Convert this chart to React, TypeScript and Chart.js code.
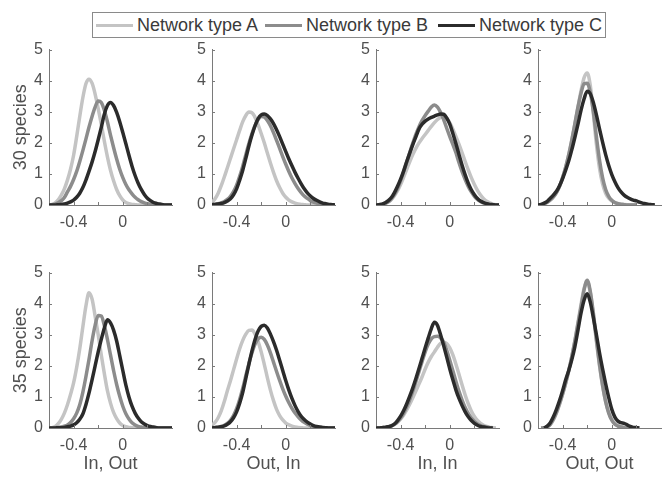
import React, { useEffect, useRef } from 'react';
import { Chart, registerables } from 'chart.js';

Chart.register(...registerables);

// ---------- data ----------
const XS = [
  -0.6, -0.575, -0.55, -0.525, -0.5, -0.475, -0.45, -0.425, -0.4, -0.375,
  -0.35, -0.325, -0.3, -0.275, -0.25, -0.225, -0.2, -0.175, -0.15, -0.125,
  -0.1, -0.075, -0.05, -0.025, 0, 0.025, 0.05, 0.075, 0.1, 0.125,
  0.15, 0.175, 0.2, 0.225, 0.25, 0.275, 0.3, 0.325, 0.35, 0.375, 0.4,
];

const SERIES_NAMES = ['Network type A', 'Network type B', 'Network type C'];
const ROW_LABELS = ['30 species', '35 species'];
const COL_LABELS = ['In, Out', 'Out, In', 'In, In', 'Out, Out'];
const Y_TICKS = [0, 1, 2, 3, 4, 5];
const X_TICKS = [-0.4, -0.2, 0, 0.2];
const X_TICK_LABELS = ['-0.4', '', '0', ''];

// 30 species
const S30_IN_OUT_A = [0, 0.02, 0.07, 0.17, 0.32, 0.52, 0.8, 1.15, 1.6, 2.2, 2.85, 3.45, 3.9, 4.05, 3.92, 3.57, 3.1, 2.6, 2.05, 1.55, 1.12, 0.78, 0.5, 0.3, 0.16, 0.08, 0.04, 0.02, 0.01, 0, 0, 0, 0, 0, 0, 0, 0, 0, 0, 0, 0];
const S30_IN_OUT_B = [0, 0.01, 0.03, 0.07, 0.14, 0.24, 0.42, 0.6, 0.82, 1.08, 1.4, 1.75, 2.12, 2.5, 2.85, 3.15, 3.35, 3.3, 3.05, 2.68, 2.25, 1.85, 1.48, 1.15, 0.88, 0.66, 0.49, 0.36, 0.25, 0.17, 0.11, 0.07, 0.04, 0.02, 0.01, 0, 0, 0, 0, 0, 0];
const S30_IN_OUT_C = [0, 0, 0, 0.01, 0.02, 0.03, 0.06, 0.1, 0.16, 0.25, 0.38, 0.56, 0.8, 1.08, 1.38, 1.72, 2.1, 2.5, 2.92, 3.2, 3.3, 3.2, 2.98, 2.68, 2.33, 1.97, 1.6, 1.25, 0.95, 0.7, 0.5, 0.34, 0.22, 0.14, 0.08, 0.05, 0.03, 0.01, 0, 0, 0];

const S30_OUT_IN_A = [0.08, 0.2, 0.38, 0.62, 0.9, 1.2, 1.5, 1.8, 2.1, 2.4, 2.68, 2.88, 2.99, 2.97, 2.82, 2.58, 2.3, 2.0, 1.67, 1.35, 1.05, 0.78, 0.56, 0.38, 0.25, 0.16, 0.1, 0.06, 0.03, 0.02, 0.01, 0, 0, 0, 0, 0, 0, 0, 0, 0, 0];
const S30_OUT_IN_B = [0.01, 0.02, 0.04, 0.07, 0.11, 0.18, 0.28, 0.43, 0.64, 0.92, 1.25, 1.62, 1.98, 2.3, 2.56, 2.75, 2.85, 2.83, 2.72, 2.55, 2.33, 2.08, 1.82, 1.56, 1.31, 1.08, 0.87, 0.69, 0.53, 0.4, 0.29, 0.21, 0.14, 0.09, 0.06, 0.04, 0.02, 0.01, 0, 0, 0];
const S30_OUT_IN_C = [0.01, 0.02, 0.03, 0.05, 0.08, 0.13, 0.2, 0.33, 0.52, 0.8, 1.12, 1.5, 1.9, 2.25, 2.55, 2.78, 2.9, 2.93, 2.88, 2.77, 2.62, 2.42, 2.2, 1.96, 1.72, 1.48, 1.26, 1.05, 0.86, 0.68, 0.52, 0.39, 0.29, 0.21, 0.15, 0.1, 0.06, 0.04, 0.02, 0.01, 0];

const S30_IN_IN_A = [0, 0.01, 0.02, 0.05, 0.1, 0.18, 0.3, 0.46, 0.66, 0.9, 1.15, 1.4, 1.63, 1.83, 2.0, 2.14, 2.27, 2.4, 2.53, 2.65, 2.75, 2.82, 2.84, 2.78, 2.64, 2.44, 2.2, 1.95, 1.68, 1.4, 1.13, 0.88, 0.66, 0.47, 0.32, 0.2, 0.12, 0.07, 0.03, 0.01, 0];
const S30_IN_IN_B = [0, 0.01, 0.02, 0.05, 0.1, 0.2, 0.34, 0.53, 0.78, 1.07, 1.38, 1.7, 2.0, 2.28, 2.52, 2.72, 2.88, 3.02, 3.15, 3.22, 3.15, 2.98, 2.75, 2.47, 2.2, 1.95, 1.68, 1.36, 1.07, 0.82, 0.6, 0.42, 0.28, 0.18, 0.11, 0.06, 0.03, 0.01, 0, 0, 0];
const S30_IN_IN_C = [0, 0.01, 0.03, 0.07, 0.14, 0.24, 0.4, 0.6, 0.83, 1.1, 1.4, 1.68, 1.95, 2.2, 2.45, 2.6, 2.7, 2.77, 2.82, 2.86, 2.9, 2.93, 2.92, 2.8, 2.6, 2.3, 1.97, 1.62, 1.28, 0.97, 0.7, 0.49, 0.33, 0.21, 0.13, 0.08, 0.04, 0.02, 0.01, 0, 0];

const S30_OUT_OUT_A = [0, 0.01, 0.04, 0.09, 0.16, 0.26, 0.4, 0.6, 0.88, 1.22, 1.62, 2.08, 2.6, 3.15, 3.68, 4.1, 4.25, 3.85, 2.95, 1.95, 1.18, 0.68, 0.38, 0.22, 0.13, 0.08, 0.05, 0.03, 0.02, 0.01, 0, 0, 0, null, null, null, null, null, null, null, null];
const S30_OUT_OUT_B = [0, 0.01, 0.04, 0.09, 0.16, 0.26, 0.4, 0.6, 0.88, 1.22, 1.62, 2.1, 2.62, 3.15, 3.6, 3.9, 3.92, 3.62, 3.0, 2.2, 1.45, 0.88, 0.5, 0.28, 0.15, 0.08, 0.04, 0.02, 0.01, 0, 0, 0, 0, null, null, null, null, null, null, null, null];
const S30_OUT_OUT_C = [0, 0.02, 0.06, 0.12, 0.22, 0.32, 0.44, 0.62, 0.85, 1.12, 1.42, 1.78, 2.18, 2.6, 3.05, 3.42, 3.66, 3.58, 3.3, 2.9, 2.45, 2.02, 1.62, 1.27, 0.98, 0.75, 0.56, 0.42, 0.32, 0.25, 0.2, 0.16, 0.13, 0.09, 0.06, 0.04, 0.02, 0.01, 0, null, null];

// 35 species
const S35_IN_OUT_A = [0, 0.01, 0.05, 0.14, 0.28, 0.48, 0.75, 1.08, 1.45, 1.95, 2.55, 3.25, 3.92, 4.35, 4.15, 3.6, 3.0, 2.35, 1.75, 1.2, 0.8, 0.5, 0.3, 0.16, 0.08, 0.04, 0.02, 0.01, 0, 0, 0, 0, 0, 0, 0, 0, 0, 0, 0, 0, 0];
const S35_IN_OUT_B = [0, 0, 0.01, 0.02, 0.03, 0.06, 0.1, 0.18, 0.3, 0.48, 0.75, 1.15, 1.65, 2.2, 2.8, 3.3, 3.62, 3.6, 3.3, 2.85, 2.35, 1.85, 1.4, 1.02, 0.7, 0.46, 0.29, 0.17, 0.1, 0.05, 0.03, 0.01, 0, 0, 0, 0, 0, 0, 0, 0, 0];
const S35_IN_OUT_C = [0, 0, 0, 0.01, 0.01, 0.02, 0.04, 0.06, 0.1, 0.17, 0.28, 0.45, 0.75, 1.12, 1.55, 2.0, 2.45, 2.85, 3.22, 3.48, 3.38, 3.15, 2.8, 2.33, 1.85, 1.38, 1.0, 0.7, 0.48, 0.32, 0.2, 0.13, 0.08, 0.05, 0.03, 0.01, 0, 0, 0, 0, 0];

const S35_OUT_IN_A = [0.1, 0.18, 0.33, 0.55, 0.85, 1.2, 1.52, 1.87, 2.22, 2.55, 2.82, 3.02, 3.14, 3.15, 3.02, 2.78, 2.45, 2.05, 1.62, 1.22, 0.88, 0.6, 0.4, 0.26, 0.16, 0.1, 0.06, 0.03, 0.02, 0.01, 0, 0, 0, 0, 0, 0, 0, 0, 0, 0, 0];
const S35_OUT_IN_B = [0.01, 0.02, 0.03, 0.05, 0.09, 0.15, 0.25, 0.4, 0.62, 0.92, 1.28, 1.68, 2.07, 2.42, 2.7, 2.87, 2.92, 2.85, 2.67, 2.42, 2.12, 1.82, 1.53, 1.26, 1.02, 0.81, 0.63, 0.48, 0.36, 0.26, 0.18, 0.12, 0.08, 0.05, 0.03, 0.02, 0.01, 0, 0, 0, 0];
const S35_OUT_IN_C = [0, 0.01, 0.02, 0.04, 0.07, 0.12, 0.2, 0.33, 0.52, 0.8, 1.15, 1.6, 2.05, 2.48, 2.85, 3.12, 3.27, 3.31, 3.22, 3.02, 2.78, 2.5, 2.18, 1.85, 1.52, 1.22, 0.95, 0.72, 0.53, 0.38, 0.27, 0.19, 0.13, 0.08, 0.05, 0.03, 0.02, 0.01, 0, 0, 0];

const S35_IN_IN_A = [0, 0, 0.01, 0.02, 0.04, 0.07, 0.12, 0.19, 0.29, 0.42, 0.58, 0.77, 0.98, 1.2, 1.42, 1.65, 1.9, 2.12, 2.3, 2.45, 2.6, 2.72, 2.76, 2.72, 2.58, 2.35, 2.05, 1.72, 1.38, 1.06, 0.78, 0.55, 0.37, 0.24, 0.15, 0.09, 0.05, 0.02, 0.01, 0, null];
const S35_IN_IN_B = [0, 0, 0.01, 0.02, 0.04, 0.07, 0.12, 0.2, 0.32, 0.48, 0.68, 0.92, 1.2, 1.5, 1.82, 2.14, 2.45, 2.7, 2.87, 2.94, 2.95, 2.9, 2.76, 2.5, 2.18, 1.84, 1.5, 1.18, 0.9, 0.66, 0.47, 0.32, 0.21, 0.13, 0.08, 0.05, 0.03, 0.01, 0, null, null];
const S35_IN_IN_C = [0, 0, 0.01, 0.02, 0.04, 0.07, 0.13, 0.24, 0.38, 0.56, 0.78, 1.03, 1.3, 1.6, 1.92, 2.25, 2.58, 2.9, 3.2, 3.4, 3.3, 3.0, 2.65, 2.28, 1.9, 1.55, 1.22, 0.95, 0.72, 0.52, 0.36, 0.24, 0.15, 0.09, 0.05, 0.03, 0.01, 0, 0, null, null];

const S35_OUT_OUT_A = [null, 0, 0.01, 0.04, 0.11, 0.26, 0.48, 0.76, 1.08, 1.44, 1.84, 2.3, 2.82, 3.4, 3.98, 4.5, 4.72, 4.35, 3.62, 2.78, 2.0, 1.35, 0.85, 0.5, 0.28, 0.15, 0.08, 0.04, 0.02, 0.01, 0, null, null, null, null, null, null, null, null, null, null];
const S35_OUT_OUT_B = [null, 0, 0.01, 0.04, 0.12, 0.28, 0.5, 0.78, 1.1, 1.45, 1.85, 2.3, 2.8, 3.35, 3.9, 4.45, 4.75, 4.4, 3.7, 2.85, 2.05, 1.38, 0.85, 0.48, 0.25, 0.12, 0.06, 0.03, 0.01, 0, 0, null, null, null, null, null, null, null, null, null, null];
const S35_OUT_OUT_C = [null, null, 0, 0.06, 0.17, 0.36, 0.6, 0.88, 1.2, 1.55, 1.85, 2.2, 2.62, 3.15, 3.7, 4.12, 4.32, 4.05, 3.55, 3.0, 2.42, 1.9, 1.42, 0.98, 0.6, 0.35, 0.22, 0.17, 0.15, 0.1, 0.05, 0.02, 0.01, 0, null, null, null, null, null, null, null];

const PANELS = [
  [
    [S30_IN_OUT_A, S30_IN_OUT_B, S30_IN_OUT_C],
    [S30_OUT_IN_A, S30_OUT_IN_B, S30_OUT_IN_C],
    [S30_IN_IN_A, S30_IN_IN_B, S30_IN_IN_C],
    [S30_OUT_OUT_A, S30_OUT_OUT_B, S30_OUT_OUT_C],
  ],
  [
    [S35_IN_OUT_A, S35_IN_OUT_B, S35_IN_OUT_C],
    [S35_OUT_IN_A, S35_OUT_IN_B, S35_OUT_IN_C],
    [S35_IN_IN_A, S35_IN_IN_B, S35_IN_IN_C],
    [S35_OUT_OUT_A, S35_OUT_OUT_B, S35_OUT_OUT_C],
  ],
];

// ---------- styles / layout ----------
const COLORS = ['#c4c4c4', '#8c8c8c', '#2b2b2b'];
const FONT = '"Liberation Sans", Arial, Helvetica, sans-serif';
const TEXT = '#505050';
const AXIS = '#7a7a7a';
const COL_X = [49, 212, 376, 538];
const ROW_Y = [46, 269];
const PLOT_W = 123;
const PLOT_H = 159;
const LEFT_W = 45;
const TOP_PAD = 12;
const RIGHT_PAD = 8;
const BOTTOM_H = 48;
const LEGEND_ITEM_X = [96, 265, 438];

const innerTicks = {
  id: 'innerTicks',
  afterDatasetsDraw(chart: any) {
    const { ctx, chartArea, scales } = chart;
    const x = scales.x;
    const y = scales.y;
    ctx.save();
    ctx.strokeStyle = AXIS;
    ctx.lineWidth = 1;
    ctx.beginPath();
    for (const v of X_TICKS) {
      const px = Math.round(x.getPixelForValue(v)) + 0.5;
      ctx.moveTo(px, chartArea.bottom);
      ctx.lineTo(px, chartArea.bottom - 3);
    }
    for (const v of Y_TICKS) {
      const py = Math.round(y.getPixelForValue(v)) + 0.5;
      ctx.moveTo(chartArea.left, py);
      ctx.lineTo(chartArea.left + 3, py);
    }
    ctx.stroke();
    ctx.restore();
  },
};

function Panel({ row, col }: { row: number; col: number }) {
  const ref = useRef<HTMLCanvasElement | null>(null);
  const W = LEFT_W + PLOT_W + RIGHT_PAD;
  const H = TOP_PAD + PLOT_H + BOTTOM_H;
  useEffect(() => {
    if (!ref.current) return;
    const series = PANELS[row][col];
    const chart = new Chart(ref.current, {
      type: 'line',
      data: {
        datasets: series.map((ys: (number | null)[], i: number) => ({
          label: SERIES_NAMES[i],
          data: XS.map((x, k) => ({ x, y: ys[k] })),
          borderColor: COLORS[i],
          backgroundColor: COLORS[i],
          borderWidth: 3.5,
          pointRadius: 0,
          fill: false,
          cubicInterpolationMode: 'monotone',
          spanGaps: false,
          order: 3 - i,
        })),
      },
      options: {
        responsive: false,
        animation: false,
        events: [],
        layout: { padding: { top: TOP_PAD, right: RIGHT_PAD, left: 0, bottom: 0 } },
        plugins: { legend: { display: false }, tooltip: { enabled: false } },
        scales: {
          x: {
            type: 'linear',
            min: -0.6,
            max: 0.4,
            afterBuildTicks: (s: any) => {
              s.ticks = X_TICKS.map((v) => ({ value: v }));
            },
            afterFit: (s: any) => {
              s.height = BOTTOM_H;
            },
            ticks: {
              autoSkip: false,
              maxRotation: 0,
              padding: 7.5,
              color: TEXT,
              font: { family: FONT, size: 16 },
              callback: (v: any) => {
                const i = X_TICK_LABELS.length ? X_TICKS.indexOf(Number(v)) : -1;
                return i >= 0 ? X_TICK_LABELS[i] : '';
              },
            },
            grid: { display: true, drawOnChartArea: false, drawTicks: false },
            border: { display: true, color: AXIS, width: 1 },
            title: {
              display: row === 1,
              text: COL_LABELS[col],
              color: TEXT,
              font: { family: FONT, size: 18 },
              padding: { top: 0, bottom: 1 },
            },
          },
          y: {
            type: 'linear',
            min: 0,
            max: 5,
            afterBuildTicks: (s: any) => {
              s.ticks = Y_TICKS.map((v) => ({ value: v }));
            },
            afterFit: (s: any) => {
              s.width = LEFT_W;
            },
            ticks: {
              padding: 6,
              color: TEXT,
              font: { family: FONT, size: 16 },
            },
            grid: { display: true, drawOnChartArea: false, drawTicks: false },
            border: { display: true, color: AXIS, width: 1 },
            title: {
              display: col === 0,
              text: ROW_LABELS[row],
              color: TEXT,
              font: { family: FONT, size: 18 },
              padding: { top: 6, bottom: 0 },
            },
          },
        },
      },
      plugins: [innerTicks],
    } as any);
    return () => chart.destroy();
  }, [row, col]);
  return (
    <canvas
      ref={ref}
      width={W}
      height={H}
      style={{
        position: 'absolute',
        left: COL_X[col] - LEFT_W,
        top: ROW_Y[row] - TOP_PAD,
        width: W,
        height: H,
      }}
    />
  );
}

export default function App() {
  return (
    <div
      style={{
        position: 'absolute',
        left: 0,
        top: 0,
        width: 668,
        height: 477,
        overflow: 'hidden',
        background: '#ffffff',
      }}
    >
      {[0, 1].map((r) => [0, 1, 2, 3].map((c) => <Panel key={`${r}-${c}`} row={r} col={c} />))}
      <div
        style={{
          position: 'absolute',
          left: 92,
          top: 12,
          width: 514,
          height: 26,
          border: '1px solid #8a8a8a',
          boxSizing: 'border-box',
          background: '#ffffff',
          fontFamily: FONT,
          fontSize: 18,
          color: '#3a3a3a',
        }}
      >
        {SERIES_NAMES.map((name, i) => (
          <div
            key={name}
            style={{
              position: 'absolute',
              left: LEGEND_ITEM_X[i] - 93,
              top: 0,
              height: 24,
              display: 'flex',
              alignItems: 'center',
              whiteSpace: 'nowrap',
            }}
          >
            <span
              style={{
                display: 'inline-block',
                width: 37,
                height: 3,
                background: COLORS[i],
                marginRight: 4,
              }}
            />
            <span>{name}</span>
          </div>
        ))}
      </div>
    </div>
  );
}
